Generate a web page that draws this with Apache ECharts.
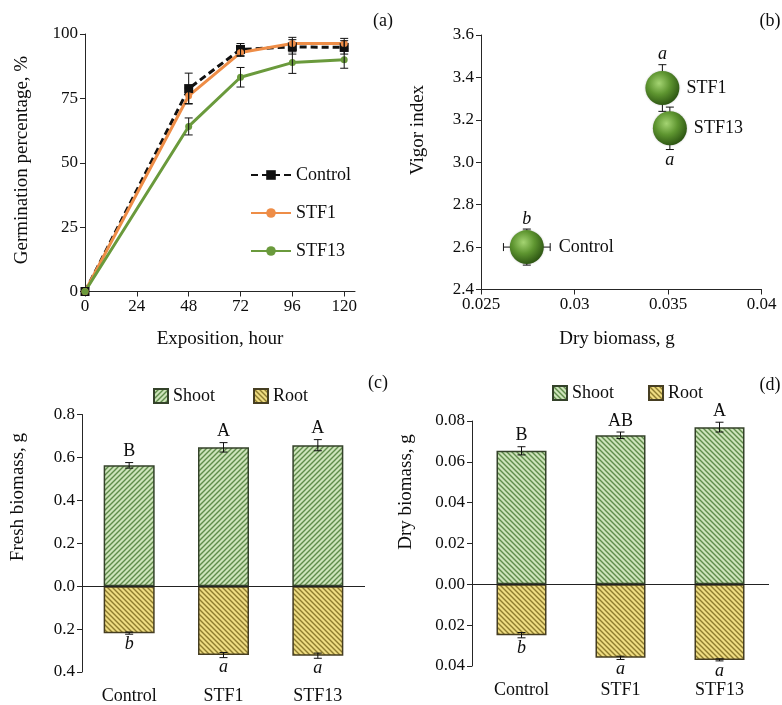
<!DOCTYPE html>
<html><head><meta charset="utf-8">
<script src="https://cdn.jsdelivr.net/npm/echarts@6/dist/echarts.min.js"></script>
<style>html,body{margin:0;padding:0;background:#fff}#c{width:782px;height:705px}</style>
</head><body><div id="c"></div>
<script>
// ---------- (a) Germination percentage ----------
const hourTicks = [0, 24, 48, 72, 96, 120];
const timePoints = [0, 48, 72, 96, 120];
const germControl = [0, 78.8, 94.0, 95.0, 94.8];
const germControlErr = [0, 6.0, 2.3, 2.8, 2.6];
const germSTF1 = [0, 76.0, 92.8, 96.3, 96.3];
const germSTF1Err = [0, 3.0, 1.5, 2.4, 2.0];
const germSTF13 = [0, 64.1, 83.2, 88.9, 90.0];
const germSTF13Err = [0, 3.3, 3.8, 4.2, 3.3];

// ---------- (b) Vigor index vs dry biomass ----------
const vigorNames = ['Control', 'STF1', 'STF13'];
const vigorDry = [0.02745, 0.0347, 0.0351];
const vigorDryErr = [0.00125, 0.0006, 0.0006];
const vigorIndex = [2.60, 3.35, 3.16];
const vigorIndexErr = [0.085, 0.11, 0.10];
const vigorLetters = ['b', 'a', 'a'];
const vigorLetterSide = ['top', 'top', 'bottom'];

// ---------- (c) Fresh biomass ----------
const treatments = ['Control', 'STF1', 'STF13'];
const freshShoot = [0.563, 0.647, 0.657];
const freshShootErr = [0.013, 0.022, 0.026];
const freshRoot = [0.219, 0.321, 0.324];
const freshRootErr = [0.005, 0.012, 0.012];
const freshShootLetters = ['B', 'A', 'A'];
const freshRootLetters = ['b', 'a', 'a'];

// ---------- (d) Dry biomass ----------
const dryShoot = [0.0654, 0.0730, 0.0770];
const dryShootErr = [0.0020, 0.0016, 0.0024];
const dryRoot = [0.0249, 0.0360, 0.0370];
const dryRootErr = [0.0013, 0.0008, 0.0005];
const dryShootLetters = ['B', 'AB', 'A'];
const dryRootLetters = ['b', 'a', 'a'];

const FONT = '"Liberation Serif", "Times New Roman", serif';
const TXT = '#0d0d0d';
const AX = '#262626';

function hatch(bg, fg, dir) {
  const s = 5;
  const c = document.createElement('canvas');
  c.width = s; c.height = s;
  const g = c.getContext('2d');
  g.fillStyle = bg; g.fillRect(0, 0, s, s);
  g.strokeStyle = fg; g.lineWidth = 1.4;
  g.beginPath();
  if (dir > 0) {
    g.moveTo(-1, s + 1); g.lineTo(s + 1, -1);
    g.moveTo(-1, 1); g.lineTo(1, -1);
    g.moveTo(s - 1, s + 1); g.lineTo(s + 1, s - 1);
  } else {
    g.moveTo(-1, -1); g.lineTo(s + 1, s + 1);
    g.moveTo(-1, s - 1); g.lineTo(1, s + 1);
    g.moveTo(s - 1, -1); g.lineTo(s + 1, 1);
  }
  g.stroke();
  return { image: c, repeat: 'repeat' };
}
const shootFillC = hatch('#cde3ba', '#5f8c4a', 1);
const shootFillD = hatch('#cde3ba', '#5f8c4a', -1);
const rootFill = hatch('#eedc82', '#8e7c2e', -1);

const errStyle = { stroke: '#111', lineWidth: 1 };
function vbar(p1, p2, w) {
  return [
    { type: 'line', shape: { x1: p1[0], y1: p1[1], x2: p2[0], y2: p2[1] }, style: errStyle },
    { type: 'line', shape: { x1: p1[0] - w, y1: p1[1], x2: p1[0] + w, y2: p1[1] }, style: errStyle },
    { type: 'line', shape: { x1: p2[0] - w, y1: p2[1], x2: p2[0] + w, y2: p2[1] }, style: errStyle }
  ];
}

function lineErrSeries(vals, errs) {
  return {
    type: 'custom', xAxisIndex: 0, yAxisIndex: 0, z: 5, silent: true,
    data: timePoints.map((t, i) => [t, vals[i], errs[i]]),
    renderItem: (params, api) => {
      const x = api.value(0), y = api.value(1), e = api.value(2);
      if (!e) return null;
      return { type: 'group', children: vbar(api.coord([x, y + e]), api.coord([x, y - e]), 4) };
    }
  };
}

function barErrSeries(xi, yi, shoot, shootErr, root, rootErr, upL, lowL) {
  return {
    type: 'custom', xAxisIndex: xi, yAxisIndex: yi, z: 5, silent: true,
    data: shoot.map((v, i) => [i, v, shootErr[i], -root[i], rootErr[i]]),
    renderItem: (params, api) => {
      const i = api.value(0);
      const s = api.value(1), se = api.value(2), r = api.value(3), re = api.value(4);
      const t1 = api.coord([i, s + se]), t2 = api.coord([i, s - se]);
      const b1 = api.coord([i, r + re]), b2 = api.coord([i, r - re]);
      const ch = vbar(t1, t2, 4).concat(vbar(b1, b2, 4));
      ch.push({ type: 'text', style: { text: upL[params.dataIndex], x: t1[0], y: t1[1] - 2,
        textAlign: 'center', textVerticalAlign: 'bottom', font: '18px ' + FONT, fill: TXT } });
      ch.push({ type: 'text', style: { text: lowL[params.dataIndex], x: b2[0], y: b2[1] + 1,
        textAlign: 'center', textVerticalAlign: 'top', font: 'italic 18px ' + FONT, fill: TXT } });
      return { type: 'group', children: ch };
    }
  };
}

const axisCommon = {
  axisLine: { show: true, lineStyle: { color: AX, width: 1 } },
  axisTick: { show: true, length: 5, lineStyle: { color: AX } },
  splitLine: { show: false },
  axisLabel: { color: TXT, fontFamily: FONT, fontSize: 17, margin: 7 }
};
function ax(extra) { return echarts.util.merge(echarts.util.clone(axisCommon), extra, true); }

const sphere = {
  type: 'radial', x: 0.4, y: 0.36, r: 0.66,
  colorStops: [
    { offset: 0, color: '#a4d472' },
    { offset: 0.5, color: '#5e9530' },
    { offset: 1, color: '#2c5412' }
  ]
};

const chart = echarts.init(document.getElementById('c'), null, { renderer: 'canvas' });
const option = {
  animation: false,
  backgroundColor: '#fff',
  textStyle: { fontFamily: FONT },
  grid: [
    { left: 85, top: 34, width: 270, height: 257.5 },
    { left: 481, top: 35, width: 280.5, height: 254.5 },
    { left: 82, top: 414.5, width: 283, height: 258 },
    { left: 472, top: 421, width: 297, height: 245 }
  ],
  xAxis: [
    ax({ gridIndex: 0, type: 'value', min: 0, max: 125,
      axisTick: { customValues: hourTicks }, axisLabel: { customValues: hourTicks } }),
    ax({ gridIndex: 1, type: 'value', min: 0.025, max: 0.04, interval: 0.005,
      axisLabel: { formatter: v => String(+v.toFixed(3)) } }),
    ax({ gridIndex: 2, type: 'category', data: treatments, position: 'bottom',
      axisLine: { show: false, onZero: false }, axisTick: { show: false },
      axisLabel: { fontSize: 18, margin: 15 } }),
    ax({ gridIndex: 3, type: 'category', data: treatments, position: 'bottom',
      axisLine: { show: false, onZero: false }, axisTick: { show: false },
      axisLabel: { fontSize: 18, margin: 15 } })
  ],
  yAxis: [
    ax({ gridIndex: 0, type: 'value', min: 0, max: 100, interval: 25 }),
    ax({ gridIndex: 1, type: 'value', min: 2.4, max: 3.6, interval: 0.2,
      axisLabel: { formatter: v => v.toFixed(1) } }),
    ax({ gridIndex: 2, type: 'value', min: -0.4, max: 0.8, interval: 0.2,
      axisLabel: { formatter: v => Math.abs(v).toFixed(1) } }),
    ax({ gridIndex: 3, type: 'value', min: -0.04, max: 0.08, interval: 0.02,
      axisLabel: { formatter: v => Math.abs(v).toFixed(2) } })
  ],
  legend: [
    { data: ['Control', 'STF1', 'STF13'], orient: 'vertical', left: 250, top: 165, padding: 0,
      itemWidth: 40, itemHeight: 12, itemGap: 18,
      textStyle: { fontFamily: FONT, fontSize: 18, color: TXT, lineHeight: 20 } },
    { data: [{ name: 'Shoot', itemStyle: { color: shootFillC } }, { name: 'Root', itemStyle: { color: rootFill } }],
      orient: 'horizontal', left: 153, top: 387, padding: 0, icon: 'rect',
      itemWidth: 14, itemHeight: 14, itemGap: 38,
      textStyle: { fontFamily: FONT, fontSize: 18, color: TXT } },
    { data: [{ name: 'Shoot', itemStyle: { color: shootFillD } }, { name: 'Root', itemStyle: { color: rootFill } }],
      orient: 'horizontal', left: 552, top: 384, padding: 0, icon: 'rect',
      itemWidth: 14, itemHeight: 14, itemGap: 34,
      textStyle: { fontFamily: FONT, fontSize: 18, color: TXT } }
  ],
  series: [
    { name: 'Control', type: 'line', xAxisIndex: 0, yAxisIndex: 0,
      data: timePoints.map((t, i) => [t, germControl[i]]),
      symbol: 'rect', symbolSize: 9, color: '#111',
      lineStyle: { color: '#111', width: 3, type: [7, 4] }, itemStyle: { color: '#111' } },
    { name: 'STF1', type: 'line', xAxisIndex: 0, yAxisIndex: 0,
      data: timePoints.map((t, i) => [t, germSTF1[i]]),
      symbol: 'circle', symbolSize: 7, color: '#ee8d47',
      lineStyle: { color: '#ee8d47', width: 3 }, itemStyle: { color: '#ee8d47' } },
    { name: 'STF13', type: 'line', xAxisIndex: 0, yAxisIndex: 0,
      data: timePoints.map((t, i) => [t, germSTF13[i]]),
      symbol: 'circle', symbolSize: 7, color: '#6a9a3c',
      lineStyle: { color: '#6a9a3c', width: 3 }, itemStyle: { color: '#6a9a3c' } },
    lineErrSeries(germControl, germControlErr),
    lineErrSeries(germSTF1, germSTF1Err),
    lineErrSeries(germSTF13, germSTF13Err),

    // (b) error bars (behind bubbles) + letters
    { type: 'custom', xAxisIndex: 1, yAxisIndex: 1, z: 1, silent: true,
      data: vigorDry.map((x, i) => [x, vigorIndex[i], vigorDryErr[i], vigorIndexErr[i]]),
      renderItem: (params, api) => {
        const x = api.value(0), y = api.value(1), xe = api.value(2), ye = api.value(3);
        const t = api.coord([x, y + ye]), b = api.coord([x, y - ye]);
        const l = api.coord([x - xe, y]), r = api.coord([x + xe, y]);
        const ch = vbar(t, b, 4);
        ch.push({ type: 'line', shape: { x1: l[0], y1: l[1], x2: r[0], y2: r[1] }, style: errStyle });
        ch.push({ type: 'line', shape: { x1: l[0], y1: l[1] - 4, x2: l[0], y2: l[1] + 4 }, style: errStyle });
        ch.push({ type: 'line', shape: { x1: r[0], y1: r[1] - 4, x2: r[0], y2: r[1] + 4 }, style: errStyle });
        const i = params.dataIndex;
        const up = vigorLetterSide[i] === 'top';
        ch.push({ type: 'text', style: { text: vigorLetters[i], x: t[0], y: up ? t[1] - 1 : b[1] + 2,
          textAlign: 'center', textVerticalAlign: up ? 'bottom' : 'top',
          font: 'italic 18px ' + FONT, fill: TXT } });
        return { type: 'group', children: ch };
      } },
    { type: 'scatter', xAxisIndex: 1, yAxisIndex: 1, z: 3, symbolSize: 34,
      data: vigorDry.map((x, i) => ({ value: [x, vigorIndex[i]], name: vigorNames[i],
        label: { distance: i === 0 ? 15 : 7 } })),
      itemStyle: { color: sphere, opacity: 1, shadowBlur: 2, shadowColor: 'rgba(0,0,0,0.25)' },
      label: { show: true, position: 'right', formatter: p => p.name, opacity: 1,
        fontFamily: FONT, fontSize: 18, color: TXT } },

    // (c)
    { name: 'Shoot', type: 'bar', xAxisIndex: 2, yAxisIndex: 2, stack: 'c', barWidth: 51,
      data: freshShoot, itemStyle: { color: shootFillC, borderColor: '#34422a', borderWidth: 1.5 },
      markLine: { silent: true, symbol: 'none', label: { show: false },
        lineStyle: { color: '#222', width: 1, type: 'solid' }, data: [{ yAxis: 0 }] } },
    { name: 'Root', type: 'bar', xAxisIndex: 2, yAxisIndex: 2, stack: 'c', barWidth: 51,
      data: freshRoot.map(v => -v), itemStyle: { color: rootFill, borderColor: '#463e22', borderWidth: 1.5 } },
    barErrSeries(2, 2, freshShoot, freshShootErr, freshRoot, freshRootErr, freshShootLetters, freshRootLetters),

    // (d)
    { name: 'Shoot', type: 'bar', xAxisIndex: 3, yAxisIndex: 3, stack: 'd', barWidth: 50,
      data: dryShoot, itemStyle: { color: shootFillD, borderColor: '#34422a', borderWidth: 1.5 },
      markLine: { silent: true, symbol: 'none', label: { show: false },
        lineStyle: { color: '#222', width: 1, type: 'solid' }, data: [{ yAxis: 0 }] } },
    { name: 'Root', type: 'bar', xAxisIndex: 3, yAxisIndex: 3, stack: 'd', barWidth: 50,
      data: dryRoot.map(v => -v), itemStyle: { color: rootFill, borderColor: '#463e22', borderWidth: 1.5 } },
    barErrSeries(3, 3, dryShoot, dryShootErr, dryRoot, dryRootErr, dryShootLetters, dryRootLetters)
  ],
  graphic: [
    { type: 'text', x: 22, y: 160, rotation: Math.PI / 2,
      style: { text: 'Germination percentage, %', textAlign: 'center', textVerticalAlign: 'middle', font: '19px ' + FONT, fill: TXT } },
    { type: 'text', x: 220, y: 339,
      style: { text: 'Exposition, hour', textAlign: 'center', textVerticalAlign: 'middle', font: '19px ' + FONT, fill: TXT } },
    { type: 'text', x: 418, y: 130, rotation: Math.PI / 2,
      style: { text: 'Vigor index', textAlign: 'center', textVerticalAlign: 'middle', font: '19px ' + FONT, fill: TXT } },
    { type: 'text', x: 617, y: 339,
      style: { text: 'Dry biomass, g', textAlign: 'center', textVerticalAlign: 'middle', font: '19px ' + FONT, fill: TXT } },
    { type: 'text', x: 18, y: 497, rotation: Math.PI / 2,
      style: { text: 'Fresh biomass, g', textAlign: 'center', textVerticalAlign: 'middle', font: '19px ' + FONT, fill: TXT } },
    { type: 'text', x: 406, y: 492, rotation: Math.PI / 2,
      style: { text: 'Dry biomass, g', textAlign: 'center', textVerticalAlign: 'middle', font: '19px ' + FONT, fill: TXT } },
    { type: 'text', x: 383, y: 21, style: { text: '(a)', textAlign: 'center', textVerticalAlign: 'middle', font: '18px ' + FONT, fill: TXT } },
    { type: 'text', x: 770, y: 21, style: { text: '(b)', textAlign: 'center', textVerticalAlign: 'middle', font: '18px ' + FONT, fill: TXT } },
    { type: 'text', x: 378, y: 383, style: { text: '(c)', textAlign: 'center', textVerticalAlign: 'middle', font: '18px ' + FONT, fill: TXT } },
    { type: 'text', x: 770, y: 385, style: { text: '(d)', textAlign: 'center', textVerticalAlign: 'middle', font: '18px ' + FONT, fill: TXT } }
  ]
};
chart.setOption(option);
</script>
</body></html>
